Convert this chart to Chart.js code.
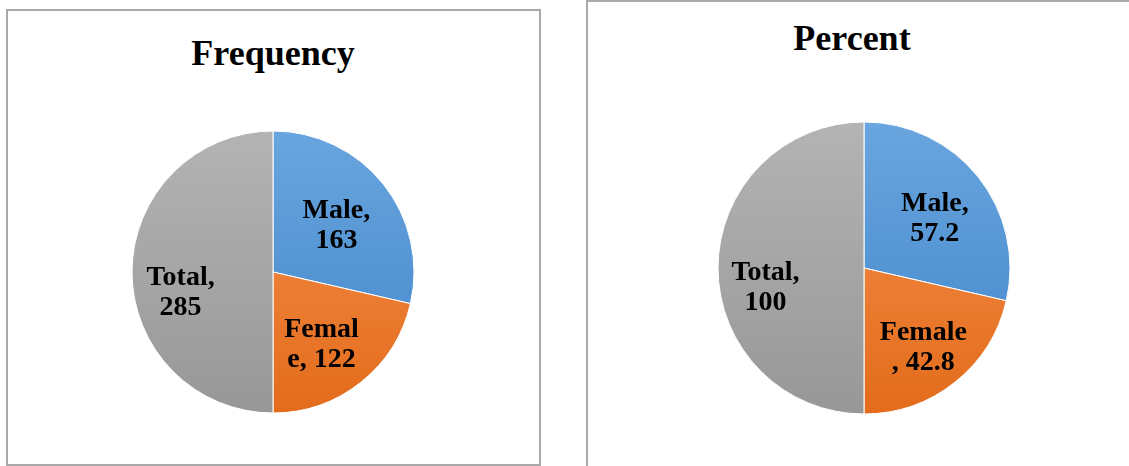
<!DOCTYPE html>
<html>
<head>
<meta charset="utf-8">
<script src="https://cdn.jsdelivr.net/npm/chart.js@4.4.1/dist/chart.umd.min.js"></script>
<style>
    body { margin: 0; width: 1129px; height: 466px; overflow: hidden; background: #fff;
           font-family: 'Liberation Serif', 'Times New Roman', serif; }
    .panel { position: absolute; box-sizing: border-box; border: 2px solid #a9a9a9; }
    .title { position: absolute; width: 300px; text-align: center; font-weight: bold;
             font-size: 36px; line-height: 36px; color: #000; }
    .pie { position: absolute; }
</style>
</head>
<body>
<div class="panel" style="left:6px; top:9px; width:535px; height:457px;"></div>
<div class="panel" style="left:586px; top:0; width:560px; height:480px;"></div>

<div class="title" style="left:123px; top:35px;">Frequency</div>
<div class="title" style="left:702px; top:20px;">Percent</div>

<div class="pie" style="left:123px; top:122px; width:300px; height:300px;"><canvas id="frequencyChart"></canvas></div>
<div class="pie" style="left:709px; top:113px; width:310px; height:310px;"><canvas id="percentChart"></canvas></div>

<script>
// Veriler
const categories = ['Male', 'Female', 'Total'];
const frequencyValues = [163, 122, 285];
const percentValues = [57.2, 42.8, 100];

// Excel tarzı dilim renkleri (üst -> alt)
const sliceColors = [
    ['#6aa6df', '#3f84c9'],
    ['#f5934f', '#e36b1b'],
    ['#b4b4b4', '#979797']
];

// Etiketi genişliğe göre iki satıra böl
function wrapLabel(ctx, text, maxWidth) {
    if (ctx.measureText(text).width <= maxWidth) return [text];
    const sp = text.indexOf(' ');
    const first = text.slice(0, sp);
    if (ctx.measureText(first).width <= maxWidth) {
        return [first, text.slice(sp + 1)];
    }
    let n = first.length;
    while (n > 1 && ctx.measureText(text.slice(0, n)).width > maxWidth) n--;
    return [text.slice(0, n), text.slice(n)];
}

// Dilim etiketleri
const sliceLabels = {
    id: 'sliceLabels',
    afterDatasetsDraw(chart, args, opts) {
        const ctx = chart.ctx;
        const meta = chart.getDatasetMeta(0);
        const values = chart.data.datasets[0].data;
        ctx.save();
        ctx.font = 'bold 28px "Liberation Serif", "Times New Roman", serif';
        ctx.fillStyle = '#000';
        ctx.textAlign = 'center';
        ctx.textBaseline = 'alphabetic';
        meta.data.forEach((arc, i) => {
            const p = arc.getProps(['x', 'y', 'startAngle', 'endAngle', 'outerRadius'], true);
            const mid = (p.startAngle + p.endAngle) / 2;
            const r = p.outerRadius * opts.radiusFraction;
            const cx = p.x + Math.cos(mid) * r + opts.shift[i][0];
            const cy = p.y + Math.sin(mid) * r + opts.shift[i][1];
            const lines = wrapLabel(ctx, chart.data.labels[i] + ', ' + values[i], opts.maxWidth);
            lines.forEach((line, k) => {
                ctx.fillText(line, cx, cy + (k - (lines.length - 1) / 2) * 30 + 9);
            });
        });
        ctx.restore();
    }
};

function makePie(id, values, radius, labelOpts) {
    const ctx = document.getElementById(id).getContext('2d');
    return new Chart(ctx, {
        type: 'pie',
        data: {
            labels: categories,
            datasets: [{
                data: values,
                backgroundColor: function(context) {
                    const chart = context.chart;
                    const area = chart.chartArea;
                    const c = sliceColors[context.dataIndex];
                    if (!area) return c[0];
                    const g = chart.ctx.createLinearGradient(0, area.top, 0, area.bottom);
                    g.addColorStop(0, c[0]);
                    g.addColorStop(1, c[1]);
                    return g;
                },
                borderColor: '#ffffff',
                borderWidth: 1,
                radius: radius
            }]
        },
        options: {
            responsive: true,
            maintainAspectRatio: false,
            animation: false,
            layout: { padding: 4 },
            plugins: {
                legend: { display: false },
                tooltip: { enabled: false },
                sliceLabels: labelOpts
            }
        },
        plugins: [sliceLabels]
    });
}

makePie('frequencyChart', frequencyValues, 141, {
    radiusFraction: 0.62,
    maxWidth: 80,
    shift: [[-5, 6], [-6, 3], [-5, 19]]
});

makePie('percentChart', percentValues, 146, {
    radiusFraction: 0.62,
    maxWidth: 90,
    shift: [[0, 5], [3, 7], [-8, 18]]
});
</script>
</body>
</html>
